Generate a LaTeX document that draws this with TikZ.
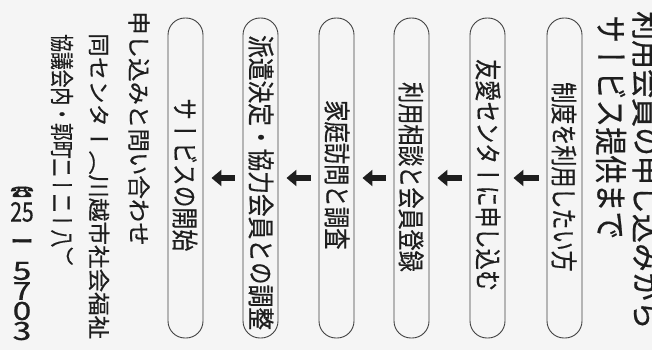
\documentclass[tikz,border=0pt]{standalone}
\usepackage{fontspec}
\usepackage{graphicx}
\setmainfont{Noto Sans CJK JP}[FakeBold=0.6]
\newfontfamily\tatefont[Vertical=RotatedGlyphs, FakeBold=0.6]{Noto Sans CJK JP}
\usetikzlibrary{positioning, arrows.meta}
\definecolor{ink}{HTML}{1E1E1E}
\definecolor{paper}{HTML}{F5F5F5}

% vertical text: size, stretch along the column, text
\newcommand{\tate}[3]{\scalebox{#2}[1]{\fontsize{#1}{#1}\tatefont #3}}

\tikzset{
  tatetext/.style={rotate=-90, anchor=west, inner sep=0pt, text=ink},
  flowbox/.style={draw=black!75, line width=0.9pt, minimum width=35pt,
                  minimum height=320pt, rounded corners=17pt, inner sep=0pt},
  flowarrow/.style={ink, line width=6.5pt, -{Triangle[length=10pt,width=16pt]},
                    shorten <=8pt, shorten >=8pt}
}

\begin{document}
\begin{tikzpicture}[x=1pt, y=-1pt]
\useasboundingbox[fill=paper] (0,0) rectangle (652,350);

% --- Title ---
\node[tatetext] (title1) at (647,11) {\tate{32}{0.905}{利用会員の申し込みから}};
\node[tatetext] (title2) at (611,15) {\tate{33}{0.85}{サービス提供まで}};

% --- Flow boxes ---
\foreach \i/\x in {1/564.5, 2/487.5, 3/411.5, 4/336.5, 5/260.5, 6/185.5}
  \node[flowbox] (s\i) at (\x,178) {};

% --- Box texts ---
\foreach \i/\x/\y/\sz/\st/\txt in {
    1/564/82/27/0.78/制度を利用したい方,
    2/488/59/27/0.78/友愛センターに申し込む,
    3/411/82/27/0.78/利用相談と会員登録,
    4/337/100/27/0.79/家庭訪問と調査,
    5/261/35/27/0.84/派遣決定・協力会員との調整,
    6/185/98/27/0.81/サービスの開始}
  \node[tatetext] (t\i) at (\x,\y) {\tate{\sz}{\st}{\txt}};

% --- Arrows between steps ---
\foreach \i in {1,...,5}{
  \pgfmathtruncatemacro\j{\i+1}
  \draw[flowarrow] (s\i) -- (s\j);
}

% --- Contact ---
\node[tatetext] (apply) at (139,11) {\tate{23}{1.02}{申し込みと問い合わせ}};
\node[tatetext] (addr1) at (99,33) {\tate{22}{1.07}{同センター（川越市社会福祉}};
\node[tatetext] (addr2) at (62,34) {\tate{24}{0.74}{協議会内・郭町二ー二ー八）}};
\node[inner sep=0pt, text=ink] (tel) at (22,192)
  {\scalebox{1.1}[0.7]{\fontsize{22}{22}\selectfont ☎}};
\node[inner sep=0pt, text=ink] (tel25) at (22,212)
  {\scalebox{0.78}[1]{\fontsize{27}{27}\selectfont 25}};
\node[tatetext] (teldash) at (22,224) {\tate{24}{1.4}{ー}};
\foreach \d/\y [count=\k] in {5/271, 7/291, 0/311, 3/331}
  \node[inner sep=0pt, text=ink] (num\k) at (22,\y)
    {\scalebox{1.35}[1]{\fontsize{25}{25}\selectfont \d}};
\end{tikzpicture}
\end{document}
